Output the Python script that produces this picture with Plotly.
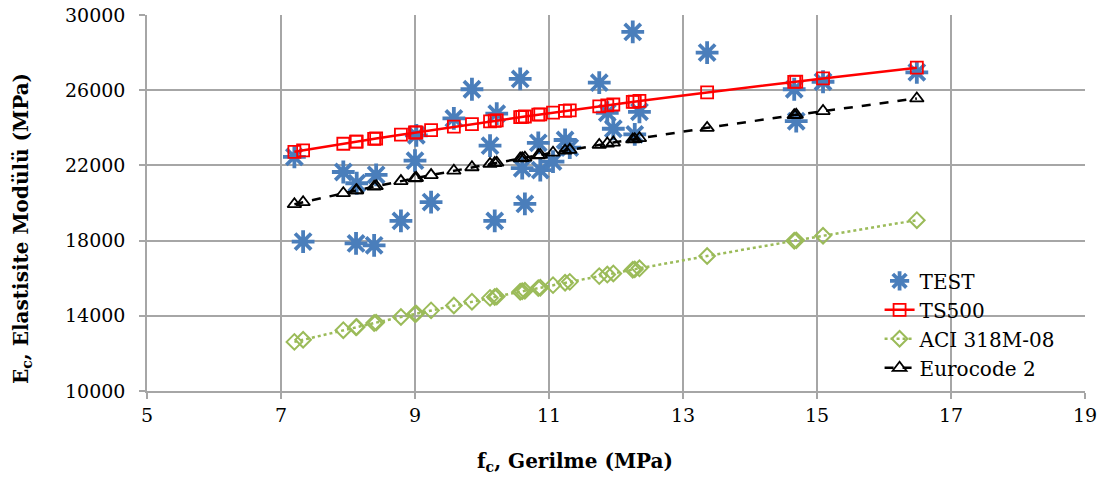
import plotly.graph_objects as go

# Test data: compressive strength fc (MPa) and measured Ec (MPa)
test_fc = [7.20, 7.33, 7.93, 8.12, 8.13, 8.39, 8.42, 8.79, 9.00, 9.02, 9.24, 9.58, 9.85,
           10.12, 10.19, 10.22, 10.57, 10.60, 10.64, 10.84, 10.87, 11.06, 11.24, 11.31,
           11.75, 11.87, 11.96, 12.25, 12.28, 12.35, 13.36, 14.66, 14.69, 15.09, 16.49]
test_ec = [22450, 17950, 21650, 17850, 21050, 17750, 21500, 19050, 22250, 23600, 20050, 24500, 26050,
           23050, 19050, 24750, 26600, 21850, 19950, 23200, 21750, 22200, 23350, 22950,
           26400, 24800, 23950, 29100, 23650, 24850, 28000, 26050, 24350, 26450, 26950]

# Model predictions at each test strength
model_fc = test_fc
ts500_ec = [22721, 22799, 23152, 23261, 23267, 23414, 23431, 23636, 23750, 23761, 23879, 24059, 24200,
            24339, 24375, 24390, 24566, 24581, 24601, 24700, 24715, 24809, 24896, 24930,
            25140, 25197, 25239, 25375, 25389, 25428, 25879, 26444, 26457, 26625, 27198]
aci_ec = [12612, 12725, 13235, 13393, 13401, 13614, 13638, 13935, 14100, 14116, 14287, 14547, 14751,
          14952, 15003, 15025, 15281, 15302, 15331, 15474, 15496, 15631, 15757, 15806,
          16111, 16193, 16254, 16450, 16470, 16527, 17179, 17995, 18014, 18258, 19086]
ec2_ec = [19935, 20043, 20521, 20667, 20675, 20871, 20894, 21165, 21315, 21330, 21484, 21719, 21901,
          22079, 22124, 22144, 22369, 22388, 22413, 22539, 22558, 22675, 22785, 22828,
          23091, 23161, 23214, 23381, 23398, 23447, 23997, 24675, 24690, 24890, 25562]

x_ticks = [5, 7, 9, 11, 13, 15, 17, 19]
y_ticks = [10000, 14000, 18000, 22000, 26000, 30000]
x_title = "<b>f<sub>c</sub>, Gerilme (MPa)</b>"
y_title = "<b>E<sub>c</sub>, Elastisite Modülü (MPa)</b>"

FONT = "DejaVu Serif, serif"
GRID = "#A6A6A6"

fig = go.Figure()

fig.add_trace(go.Scatter(
    x=test_fc, y=test_ec, mode="markers", name="TEST",
    marker=dict(symbol="asterisk-open", size=19, color="#4A7EBB",
                line=dict(color="#4A7EBB", width=3.8)),
))
fig.add_trace(go.Scatter(
    x=model_fc, y=ts500_ec, mode="lines+markers", name="TS500",
    line=dict(color="#FF0000", width=2.5),
    marker=dict(symbol="square-open", size=12, color="#FF0000",
                line=dict(color="#FF0000", width=1.8)),
))
fig.add_trace(go.Scatter(
    x=model_fc, y=aci_ec, mode="lines+markers", name="ACI 318M-08",
    line=dict(color="#9BBB59", width=2.5, dash="dot"),
    marker=dict(symbol="diamond-open", size=12, color="#9BBB59",
                line=dict(color="#9BBB59", width=2)),
))
fig.add_trace(go.Scatter(
    x=model_fc, y=ec2_ec, mode="lines+markers", name="Eurocode 2",
    line=dict(color="#000000", width=2.5, dash="dash"),
    marker=dict(symbol="triangle-up-open", size=12, color="#000000",
                line=dict(color="#000000", width=1.8)),
))

fig.update_layout(
    width=1105, height=479,
    margin=dict(l=147, r=20, t=15, b=88),
    paper_bgcolor="white", plot_bgcolor="white",
    font=dict(family=FONT, size=19, color="#000000"),
    legend=dict(x=0.781, y=0.345, xanchor="left", yanchor="top",
                bgcolor="rgba(0,0,0,0)", font=dict(family=FONT, size=20),
                tracegroupgap=0),
    showlegend=True,
    annotations=[
        dict(text=x_title, xref="paper", yref="paper", x=0.456, y=-0.189,
             xanchor="center", yanchor="middle", showarrow=False,
             font=dict(family=FONT, size=20)),
        dict(text=y_title, xref="paper", yref="paper", x=-0.1333, y=0.4335,
             xanchor="center", yanchor="middle", showarrow=False, textangle=-90,
             font=dict(family=FONT, size=20)),
    ],
)
fig.update_xaxes(
    range=[5, 19], tickvals=x_ticks, ticktext=[str(v) for v in x_ticks],
    showgrid=True, gridcolor=GRID, gridwidth=1.5,
    showline=True, linecolor=GRID, linewidth=1.5,
    ticks="outside", ticklen=6, tickcolor=GRID, tickwidth=1.5,
    tickfont=dict(family=FONT, size=19), zeroline=False, automargin=False,
)
fig.update_yaxes(
    range=[10000, 30000], tickvals=y_ticks, ticktext=[str(v) for v in y_ticks],
    showgrid=True, gridcolor=GRID, gridwidth=1.5,
    showline=True, linecolor=GRID, linewidth=1.5,
    ticks="outside", ticklen=6, tickcolor=GRID, tickwidth=1.5, ticklabelstandoff=10,
    tickfont=dict(family=FONT, size=19), zeroline=False, automargin=False,
)

fig.write_html("out.html", config={"displayModeBar": False},
               post_script="document.body.style.margin='0';")
